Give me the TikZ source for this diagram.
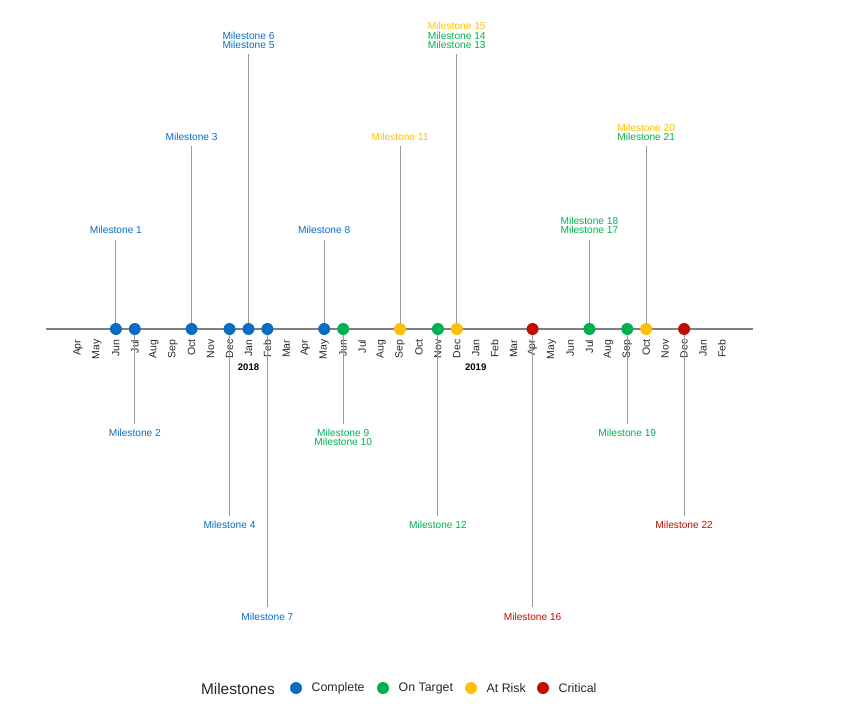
\documentclass[tikz,border=0pt]{standalone}
\usepackage{fontspec}
\setmainfont{Liberation Sans}
\definecolor{cBlue}{HTML}{0A6CC4}
\definecolor{cGreen}{HTML}{00B04F}
\definecolor{cYellow}{HTML}{FFC000}
\definecolor{cRed}{HTML}{C00F00}
\definecolor{axisgray}{HTML}{808080}
\definecolor{stemgray}{HTML}{9A9A9A}
\begin{document}
\begin{tikzpicture}[x=1bp,y=-1bp,
  axisline/.style={draw=axisgray,line width=1.3bp},
  stem/.style={draw=stemgray,line width=0.9bp},
  dot/.style={circle,inner sep=0pt,minimum size=12bp},
  lbl/.style={inner sep=0pt,font=\fontsize{10.2}{12}\selectfont,text height=7.4bp,text depth=0pt,anchor=center},
  month/.style={inner sep=0pt,rotate=90,anchor=east,font=\fontsize{10.5}{12}\selectfont,text=black!85},
  yearlbl/.style={inner sep=0pt,font=\bfseries\fontsize{9.6}{11}\selectfont},
  legtitle/.style={inner sep=0pt,anchor=west,font=\fontsize{15.5}{17}\selectfont,text=black!85},
  legitem/.style={inner sep=0pt,anchor=west,font=\fontsize{12.4}{14}\selectfont,text=black!85}
]
\useasboundingbox (0,0) rectangle (867,721);

% time axis
\coordinate (axL) at (46,329);
\coordinate (axR) at (753,329);
\draw[axisline] (axL) -- (axR);

% month labels, one per month from Apr 2017 to Feb 2020
\foreach \mn [count=\i from 0] in {Apr,May,Jun,Jul,Aug,Sep,Oct,Nov,Dec,Jan,Feb,Mar,Apr,May,Jun,Jul,Aug,Sep,Oct,Nov,Dec,Jan,Feb,Mar,Apr,May,Jun,Jul,Aug,Sep,Oct,Nov,Dec,Jan,Feb}{
  \node[month] (mon\i) at ({78+18.94*\i},339.5) {\mn};
}
\node[yearlbl] (y2018) at (248.5,367) {2018};
\node[yearlbl] (y2019) at (475.7,367) {2019};

% stems (drawn before the dots)
\foreach \n/\x/\ye in {
  1/115.9/240, 2/134.8/424, 3/191.6/146, 4/229.5/516, 5/248.5/54,
  7/267.4/607, 8/324.2/240, 9/343.2/424, 11/400.0/146, 12/437.9/516,
  13/456.8/54, 16/532.6/607, 17/589.4/240, 19/627.3/424, 20/646.2/146,
  22/684.1/516}{
  \coordinate (p\n) at (\x,329);
  \coordinate (e\n) at (\x,\ye);
  \draw[stem] (p\n) -- (e\n);
}

% milestone dots
\node[dot,fill=cBlue]   (m1)  at (p1)  {};
\node[dot,fill=cBlue]   (m2)  at (p2)  {};
\node[dot,fill=cBlue]   (m3)  at (p3)  {};
\node[dot,fill=cBlue]   (m4)  at (p4)  {};
\node[dot,fill=cBlue]   (m5)  at (p5)  {};
\node[dot,fill=cBlue]   (m7)  at (p7)  {};
\node[dot,fill=cBlue]   (m8)  at (p8)  {};
\node[dot,fill=cGreen]  (m9)  at (p9)  {};
\node[dot,fill=cYellow] (m11) at (p11) {};
\node[dot,fill=cGreen]  (m12) at (p12) {};
\node[dot,fill=cYellow] (m13) at (p13) {};
\node[dot,fill=cRed]    (m16) at (p16) {};
\node[dot,fill=cGreen]  (m17) at (p17) {};
\node[dot,fill=cGreen]  (m19) at (p19) {};
\node[dot,fill=cYellow] (m20) at (p20) {};
\node[dot,fill=cRed]    (m22) at (p22) {};

% milestone labels
\node[lbl,text=cBlue]   (l1)  at (115.9,230) {Milestone 1};
\node[lbl,text=cBlue]   (l2)  at (134.8,433) {Milestone 2};
\node[lbl,text=cBlue]   (l3)  at (191.6,137) {Milestone 3};
\node[lbl,text=cBlue]   (l4)  at (229.5,525) {Milestone 4};
\node[lbl,text=cBlue]   (l6)  at (248.5,36)  {Milestone 6};
\node[lbl,text=cBlue]   (l5)  at (248.5,44.5) {Milestone 5};
\node[lbl,text=cBlue]   (l7)  at (267.4,617) {Milestone 7};
\node[lbl,text=cBlue]   (l8)  at (324.2,230) {Milestone 8};
\node[lbl,text=cGreen]  (l9)  at (343.2,433) {Milestone 9};
\node[lbl,text=cGreen]  (l10) at (343.2,442) {Milestone 10};
\node[lbl,text=cYellow] (l11) at (400.0,137) {Milestone 11};
\node[lbl,text=cGreen]  (l12) at (437.9,525) {Milestone 12};
\node[lbl,text=cYellow] (l15) at (456.8,26)  {Milestone 15};
\node[lbl,text=cGreen]  (l14) at (456.8,35.5) {Milestone 14};
\node[lbl,text=cGreen]  (l13) at (456.8,44.5) {Milestone 13};
\node[lbl,text=cRed]    (l16) at (532.6,617) {Milestone 16};
\node[lbl,text=cGreen]  (l18) at (589.4,220.5) {Milestone 18};
\node[lbl,text=cGreen]  (l17) at (589.4,230) {Milestone 17};
\node[lbl,text=cGreen]  (l19) at (627.3,433) {Milestone 19};
\node[lbl,text=cYellow] (l20) at (646.2,128) {Milestone 20};
\node[lbl,text=cGreen]  (l21) at (646.2,137) {Milestone 21};
\node[lbl,text=cRed]    (l22) at (684.1,525) {Milestone 22};

% legend
\node[legtitle] (legt) at (200.8,688.5) {Milestones};
\node[dot,fill=cBlue]   (kb) at (296,688) {};
\node[legitem] (kbt) at (311.5,688.5) {Complete};
\node[dot,fill=cGreen]  (kg) at (383,688) {};
\node[legitem] (kgt) at (398.5,688.5) {On Target};
\node[dot,fill=cYellow] (ky) at (471,688) {};
\node[legitem] (kyt) at (486.5,688.5) {At Risk};
\node[dot,fill=cRed]    (kr) at (543,688) {};
\node[legitem] (krt) at (558.5,688.5) {Critical};
\end{tikzpicture}
\end{document}
